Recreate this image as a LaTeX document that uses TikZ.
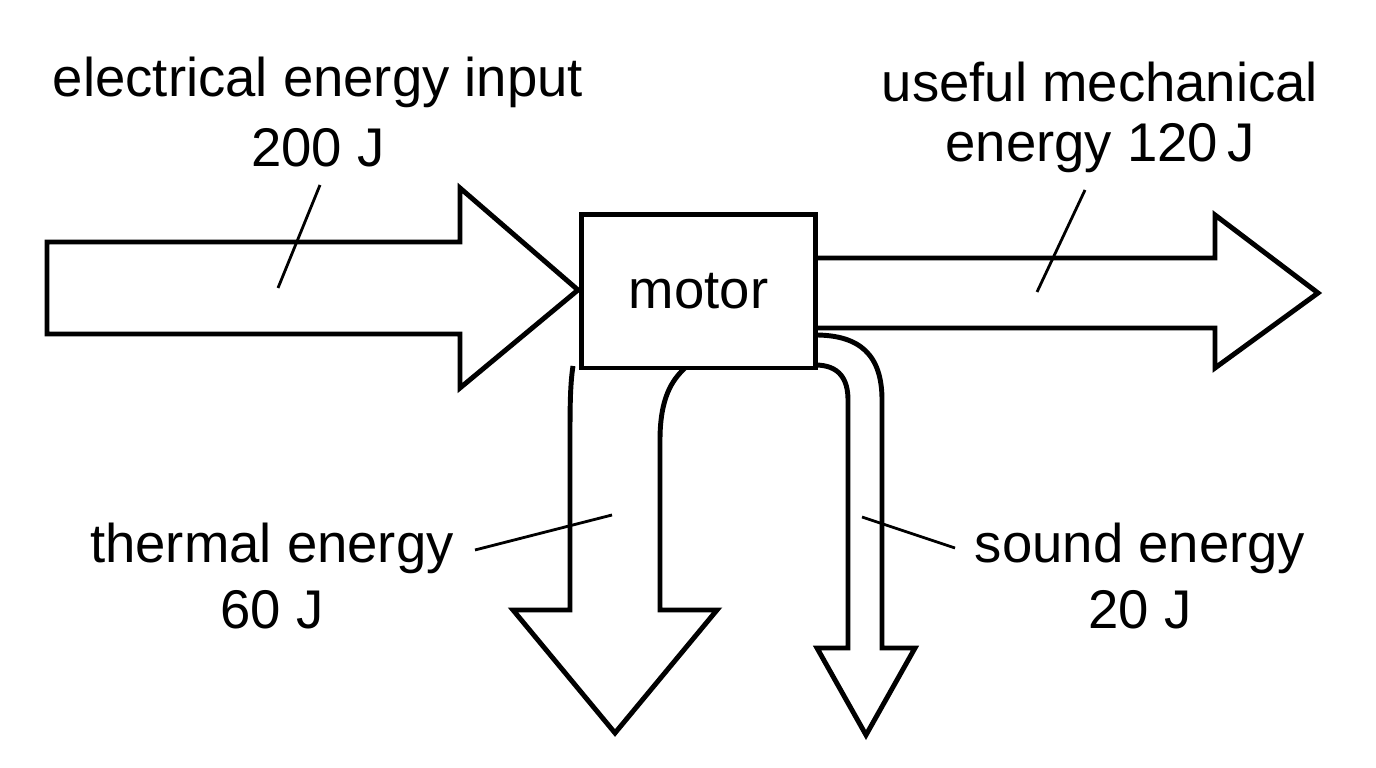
\documentclass[tikz,border=0pt]{standalone}
\usepackage{fontspec}
\setmainfont{Liberation Sans}
\usetikzlibrary{positioning}
\begin{document}
\begin{tikzpicture}[x=0.01cm,y=-0.01cm]
% Define styles
\tikzstyle{flow} = [line width=1.4pt, line join=miter, fill=white]
\tikzstyle{label} = [font=\fontsize{15.5}{18}\selectfont, inner sep=0pt]
\tikzstyle{lead} = [line width=0.8pt]
\useasboundingbox (0,0) rectangle (1376,768);
% Arrows
\draw[flow] (47,242) -- (460,242) -- (460,188) -- (578,290) -- (460,388) -- (460,334) -- (47,334) -- cycle;
\draw[flow] (815,258) -- (1215,258) -- (1215,215) -- (1318,293) -- (1215,368) -- (1215,328) -- (815,328);
\draw[flow] (573,366) .. controls (570,385) and (570,410) .. (570,440) -- (570,610) -- (513,610) -- (615,733) -- (717,610) -- (660,610) -- (660,440) .. controls (660,398) and (672,380) .. (685,368);
\draw[flow] (815,335) .. controls (860,335) and (882,355) .. (882,400) -- (882,648) -- (915,648) -- (866,735) -- (817,648) -- (848,648) -- (848,400) .. controls (848,380) and (840,365) .. (815,365);
% Define nodes
\node[draw, line width=1.4pt, fill=white, minimum width=2.33cm, minimum height=1.53cm, inner sep=0pt, label] (motor) at (698.5,291.5) {motor};
\node[label] (in1) at (318,82) {electrical energy input};
\node[label] (in2) at (318,148) {200 J};
\node[label] (out1) at (1100,82) {useful mechanical};
\node[label] (out2) at (1100,148) {energy 120\,J};
\node[label] (th1) at (272,548) {thermal energy};
\node[label] (th2) at (272,610) {60 J};
\node[label] (so1) at (1140,548) {sound energy};
\node[label] (so2) at (1140,610) {20 J};
% Leader lines
\coordinate (in_start) at (320,185);
\coordinate (in_end) at (278,288);
\coordinate (out_start) at (1085,190);
\coordinate (out_end) at (1037,292);
\coordinate (th_start) at (475,550);
\coordinate (th_end) at (612,515);
\coordinate (so_start) at (955,548);
\coordinate (so_end) at (862,517);
\draw[lead] (in_start) -- (in_end);
\draw[lead] (out_start) -- (out_end);
\draw[lead] (th_start) -- (th_end);
\draw[lead] (so_start) -- (so_end);
\end{tikzpicture}
\end{document}
